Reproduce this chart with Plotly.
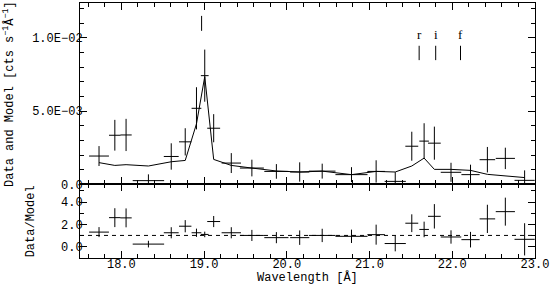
import plotly.graph_objects as go

# Bin centres and half-widths (Angstrom)
wave = [17.73, 17.921, 18.057, 18.327, 18.603, 18.772, 18.908, 19.008, 19.116, 19.329,
        19.578, 19.874, 20.156, 20.428, 20.782, 21.08, 21.311, 21.511, 21.66, 21.784,
        21.985, 22.221, 22.425, 22.642, 22.875]
half_width = [0.12, 0.07, 0.068, 0.19, 0.09, 0.075, 0.059, 0.047, 0.078, 0.117,
              0.145, 0.146, 0.116, 0.161, 0.194, 0.106, 0.128, 0.078, 0.058, 0.077,
              0.124, 0.11, 0.094, 0.116, 0.122]
# Data (cts s^-1 A^-1)
data = [1.93e-3, 3.35e-3, 3.37e-3, 2.5e-4, 1.9e-3, 2.9e-3, 5.19e-3, 7.42e-3, 3.83e-3, 1.45e-3,
        1.11e-3, 8.8e-4, 8.4e-4, 9.0e-4, 6.6e-4, 8.8e-4, 2.0e-4, 2.6e-3, 2.95e-3, 2.81e-3,
        8.2e-4, 6.6e-4, 1.68e-3, 1.77e-3, 2.7e-4]
data_err = [6.8e-4, 1.05e-3, 1.1e-3, 4.3e-4, 9.0e-4, 9.3e-4, 1.44e-3, 1.78e-3, 9.6e-4, 6.8e-4,
            5.7e-4, 5.0e-4, 6.6e-4, 5.1e-4, 5.1e-4, 7.6e-4, 6.3e-4, 9.9e-4, 1.22e-3, 1.13e-3,
            6.5e-4, 6.8e-4, 8.7e-4, 7.3e-4, 6.8e-4]
model = [1.48e-3, 1.29e-3, 1.34e-3, 1.25e-3, 1.54e-3, 1.63e-3, 4.13e-3, 7.35e-3, 1.7e-3, 1.29e-3,
         1.11e-3, 9.1e-4, 8.4e-4, 9.0e-4, 6.6e-4, 8.8e-4, 8.4e-4, 1.25e-3, 1.79e-3, 1.02e-3,
         1.02e-3, 9.5e-4, 6.8e-4, 5.6e-4, 4.6e-4]
ratio = [1.30, 2.6, 2.58, 0.22, 1.24, 1.83, 1.24, 1.09, 2.25, 1.24,
         1.0, 0.8, 0.8, 1.0, 0.92, 1.07, 0.27, 2.1, 1.54, 2.72,
         0.86, 0.62, 2.49, 3.14, 0.65]
ratio_err = [0.45, 0.85, 0.85, 0.3, 0.5, 0.55, 0.37, 0.25, 0.5, 0.5,
             0.5, 0.5, 0.65, 0.6, 0.6, 0.9, 0.7, 0.8, 0.7, 1.1,
             0.6, 0.7, 1.27, 1.26, 1.45]

# Line identifications
oviii_wave = [18.97]
triplet_wave = [21.60, 21.80, 22.10]
triplet_labels = ["r", "i", "f"]

x_ticks = [18.0, 19.0, 20.0, 21.0, 22.0, 23.0]
x_ticktext = ["18.0", "19.0", "20.0", "21.0", "22.0", "23.0"]
y_ticks_top = [0.0, 0.005, 0.01]
y_ticktext_top = ["0.0", "5.0E\u221203", "1.0E\u221202"]
y_ticks_bot = [0.0, 2.0, 4.0]
unity = 1.0
x_range = [17.5, 23.0005]

FONT = "Liberation Mono"
TICKFONT = dict(family=FONT, size=12, color="black")
CLEAR = "rgba(0,0,0,0)"

fig = go.Figure()

fig.add_trace(go.Scatter(
    x=wave, y=data, mode="markers", marker=dict(size=2, color=CLEAR),
    error_x=dict(type="data", array=half_width, width=0, thickness=1, color="black"),
    error_y=dict(type="data", array=data_err, width=0, thickness=1, color="black"),
    xaxis="x", yaxis="y", showlegend=False, hoverinfo="skip"))
fig.add_trace(go.Scatter(
    x=wave, y=model, mode="lines", line=dict(color="black", width=1),
    xaxis="x", yaxis="y", showlegend=False))
fig.add_trace(go.Scatter(
    x=wave, y=ratio, mode="markers", marker=dict(size=2, color=CLEAR),
    error_x=dict(type="data", array=half_width, width=0, thickness=1, color="black"),
    error_y=dict(type="data", array=ratio_err, width=0, thickness=1, color="black"),
    xaxis="x2", yaxis="y2", showlegend=False, hoverinfo="skip"))

shapes = []
shapes.append(dict(type="line", xref="x2 domain", yref="y2", x0=0, x1=1, y0=unity, y1=unity,
                   line=dict(color="black", width=1, dash="4px,4px")))
for w in oviii_wave:
    shapes.append(dict(type="line", xref="x", yref="y", x0=w, x1=w, y0=0.01048, y1=0.0115,
                       line=dict(color="black", width=1)))
annotations = []
for w, lab in zip(triplet_wave, triplet_labels):
    shapes.append(dict(type="line", xref="x", yref="y", x0=w, x1=w, y0=0.00848, y1=0.00946,
                       line=dict(color="black", width=1)))
    annotations.append(dict(x=w, y=0.0102, xref="x", yref="y", text=lab, showarrow=False,
                            font=dict(family="Liberation Serif", size=13, color="black"),
                            xanchor="center", yanchor="middle"))

annotations.append(dict(x=-72 / 457, y=0.5 * (0.289 + 1), xref="paper", yref="paper",
                        text="Data and Model [cts s<sup>\u22121</sup>\u00c5<sup>\u22121</sup>]",
                        textangle=-90, showarrow=False, xanchor="center", yanchor="middle",
                        font=dict(family=FONT, size=12, color="black")))
annotations.append(dict(x=-49 / 457, y=0.289 / 2, xref="paper", yref="paper",
                        text="Data/Model", textangle=-90, showarrow=False,
                        xanchor="center", yanchor="middle",
                        font=dict(family=FONT, size=12, color="black")))
annotations.append(dict(x=0.5, y=-26 / 256, xref="paper", yref="paper",
                        text="Wavelength [\u00c5]", showarrow=False,
                        xanchor="center", yanchor="bottom", yshift=-2, borderpad=0,
                        font=dict(family=FONT, size=12, color="black")))

axis_common = dict(showline=True, linecolor="black", linewidth=1, mirror="allticks",
                   ticks="inside", tickcolor="black", showgrid=False, zeroline=False,
                   tickfont=TICKFONT, ticklabeloverflow="allow")

fig.update_layout(
    width=551, height=284,
    margin=dict(l=80, r=14, t=2, b=26),
    paper_bgcolor="white", plot_bgcolor="white",
    font=dict(family=FONT, size=12, color="black"),
    showlegend=False,
    xaxis=dict(domain=[0, 1], anchor="y", range=x_range, tickvals=x_ticks,
               showticklabels=False, ticklen=7,
               minor=dict(dtick=0.2, tick0=17.0, ticklen=4, ticks="inside", tickcolor="black"),
               **axis_common),
    yaxis=dict(domain=[0.289, 1], anchor="x", range=[0, 0.012381],
               tickvals=y_ticks_top, ticktext=y_ticktext_top, ticklen=7,
               ticklabelstandoff=-6,
               minor=dict(dtick=0.001, tick0=0, ticklen=4, ticks="inside", tickcolor="black"),
               **axis_common),
    xaxis2=dict(domain=[0, 1], anchor="y2", matches="x", range=x_range,
                tickvals=x_ticks, ticktext=x_ticktext,
                ticklen=7, ticklabelstandoff=-5,
                minor=dict(dtick=0.2, tick0=17.0, ticklen=4, ticks="inside", tickcolor="black"),
                **axis_common),
    yaxis2=dict(domain=[0, 0.289], anchor="x2", range=[-1.03, 5.6],
                tickvals=y_ticks_bot, tickformat=".1f", ticklen=7, ticklabelstandoff=-6,
                minor=dict(dtick=1.0, tick0=0, ticklen=4, ticks="inside", tickcolor="black"),
                **axis_common),
    shapes=shapes,
    annotations=annotations,
)

fig.write_html("out.html", config={"displayModeBar": False},
               post_script="document.body.style.margin='0';document.body.style.padding='0';")
